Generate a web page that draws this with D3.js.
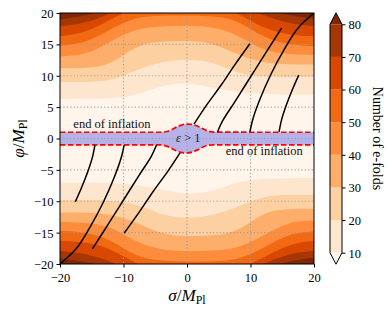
<!DOCTYPE html>
<html>
<head>
<meta charset="utf-8">
<script src="https://cdn.jsdelivr.net/npm/d3@7"></script>
<style>
  body { margin: 0; background: #fff; }
  svg { display: block; font-family: "Liberation Serif", serif; }
</style>
</head>
<body>
<div id="chart"></div>
<script>
// contour levels of the number of e-folds
const levels = [10, 20, 30, 40, 50, 60, 70, 80];

// sigma positions at which the contour boundaries were read (upper half, phi > 0)
const sigmaGrid = [-20, -16, -12, -8, -4, 0, 4, 8, 12, 16, 20];

// phi of each level boundary along sigmaGrid (upper half); lower half is the point reflection
const level10 = [6.3, 6.3, 6.4, 6.8, 8.5, 9.0, 8.1, 7.3, 7.1, 7.0, 7.0];
const level20 = [9.0, 9.0, 9.1, 10.9, 12.3, 12.7, 12.3, 10.3, 9.9, 9.8, 9.8];
const level30 = [11.2, 11.2, 11.6, 15.0, 15.5, 15.6, 15.3, 13.3, 12.0, 11.8, 11.8];
const level40 = [13.1, 13.2, 15.5, 17.6, 17.9, 18.0, 17.8, 16.6, 13.9, 13.4, 13.3];
const level50 = [14.8, 15.1, 17.5, 19.4, 19.6, 19.6, 19.5, 19.0, 16.0, 14.9, 14.7];
const level60 = [16.3, 16.8, 19.0, 21.0, 21.8, 22.0, 21.5, 20.0, 17.5, 16.5, 16.3];
const level70 = [17.9, 18.3, 20.0, 21.5, 23.0, 23.0, 22.5, 21.3, 19.6, 18.3, 17.9];
const level80 = [19.0, 19.5, 20.8, 22.0, 24.0, 24.0, 23.5, 22.5, 20.6, 19.6, 19.1];
const levelCurves = [level10, level20, level30, level40, level50, level60, level70, level80];

// boundary of the epsilon > 1 region (upper side); lower side is the point reflection
const epsSigma = [-20, -10, -4.2, -3, -2, -1, 0, 1, 2, 3, 4.2, 10, 20];
const epsPhi = [1.0, 1.0, 1.0, 1.15, 1.65, 2.1, 2.3, 2.2, 1.8, 1.3, 1.02, 1.0, 1.0];

// field trajectories [sigma, phi] in the lower half; the upper ones are their reflections
const traj1 = [[-17.6, -10.1], [-16.6, -7.8], [-15.6, -5.2], [-14.9, -3.0], [-14.5, -1.05]];
const traj2 = [[-20, -20], [-17.4, -17.5], [-15.2, -14.0], [-13.2, -10.2], [-11.5, -6.3], [-10.4, -3.2], [-9.9, -1.05]];
const traj3 = [[-14.9, -17.6], [-12.5, -13.8], [-10, -9.8], [-7.5, -5.8], [-5.6, -2.8], [-4.8, -1.05]];
const traj4 = [[-9.9, -15.1], [-7.5, -11.7], [-5.3, -8.4], [-3, -5.2], [-1.1, -2.3]];
const trajectories = [traj1, traj2, traj3, traj4];

const xTicks = [-20, -10, 0, 10, 20];
const yTicks = [-20, -15, -10, -5, 0, 5, 10, 15, 20];
const gridX = [-10, 0, 10];
const gridY = [-15, -10, -5, 0, 5, 10, 15];

const width = 389, height = 314;
const plot = { left: 60, right: 314, top: 13, bottom: 264 };
const colors = d3.schemeOranges[9];
const fmt = (d) => (d < 0 ? "\u2212" + Math.abs(d) : String(d));

const svg = d3.select("#chart").append("svg")
  .attr("width", width)
  .attr("height", height);

const x = d3.scaleLinear().domain([-20, 20]).range([plot.left, plot.right]);
const y = d3.scaleLinear().domain([-20, 20]).range([plot.bottom, plot.top]);

svg.append("clipPath").attr("id", "clip")
  .append("rect")
  .attr("x", plot.left).attr("y", plot.top)
  .attr("width", plot.right - plot.left).attr("height", plot.bottom - plot.top);

const chart = svg.append("g").attr("clip-path", "url(#clip)");

// below the first level
chart.append("rect")
  .attr("x", plot.left).attr("y", plot.top)
  .attr("width", plot.right - plot.left).attr("height", plot.bottom - plot.top)
  .attr("fill", colors[0]);

const reflect = (pts) => pts.map(([s, p]) => [-s, -p]).reverse();

const upperArea = d3.area()
  .curve(d3.curveBasis)
  .x((d) => x(d[0]))
  .y0(y(30))
  .y1((d) => y(d[1]));
const lowerArea = d3.area()
  .curve(d3.curveBasis)
  .x((d) => x(d[0]))
  .y0(y(-30))
  .y1((d) => y(d[1]));

levelCurves.forEach((curve, i) => {
  const pts = sigmaGrid.map((s, j) => [s, curve[j]]);
  chart.append("path").attr("d", upperArea(pts)).attr("fill", colors[i + 1]);
  chart.append("path").attr("d", lowerArea(reflect(pts))).attr("fill", colors[i + 1]);
});

// epsilon > 1 region
const epsUpper = epsSigma.map((s, j) => [s, epsPhi[j]]);
const epsLower = reflect(epsUpper);
const line = d3.line().curve(d3.curveMonotoneX).x((d) => x(d[0])).y((d) => y(d[1]));
chart.append("path")
  .attr("d", d3.area().curve(d3.curveMonotoneX)
    .x((d) => x(d[0]))
    .y0((d, j) => y(-epsPhi[epsPhi.length - 1 - j]))
    .y1((d) => y(d[1]))(epsUpper))
  .attr("fill", "#b4b2e8");

// grid
chart.append("g").selectAll("line").data(gridX).join("line")
  .attr("x1", (d) => x(d)).attr("x2", (d) => x(d))
  .attr("y1", plot.top).attr("y2", plot.bottom)
  .attr("stroke", "#9a9a9a").attr("stroke-width", 1.2)
  .attr("stroke-dasharray", "1.2,2.2").attr("stroke-opacity", 0.85);
chart.append("g").selectAll("line").data(gridY).join("line")
  .attr("x1", plot.left).attr("x2", plot.right)
  .attr("y1", (d) => y(d)).attr("y2", (d) => y(d))
  .attr("stroke", "#9a9a9a").attr("stroke-width", 1.2)
  .attr("stroke-dasharray", "1.2,2.2").attr("stroke-opacity", 0.85);

// red dashed outline of the epsilon > 1 region
[epsUpper, epsLower].forEach((pts) => {
  chart.append("path")
    .attr("d", line(pts))
    .attr("fill", "none")
    .attr("stroke", "#ff0000")
    .attr("stroke-width", 1.7)
    .attr("stroke-dasharray", "5.5,2.5");
});

// trajectories
const trajLine = d3.line().curve(d3.curveCatmullRom).x((d) => x(d[0])).y((d) => y(d[1]));
trajectories.forEach((t) => {
  [t, reflect(t)].forEach((pts) => {
    chart.append("path")
      .attr("d", trajLine(pts))
      .attr("fill", "none")
      .attr("stroke", "#000")
      .attr("stroke-width", 1.5);
  });
});

// annotations
svg.append("text")
  .attr("x", x(-17.9)).attr("y", y(1.7))
  .attr("font-size", 12.5).attr("fill", "#111")
  .text("end of inflation");
svg.append("text")
  .attr("x", x(6.1)).attr("y", y(-2.7))
  .attr("font-size", 12.5).attr("fill", "#111")
  .text("end of inflation");
const epsText = svg.append("text")
  .attr("x", x(0.2)).attr("y", y(-0.6))
  .attr("text-anchor", "middle")
  .attr("font-size", 12.5).attr("fill", "#222");
epsText.append("tspan").attr("font-style", "italic").text("\u03b5");
epsText.append("tspan").text(" > 1");

// frame
svg.append("rect")
  .attr("x", plot.left).attr("y", plot.top)
  .attr("width", plot.right - plot.left).attr("height", plot.bottom - plot.top)
  .attr("fill", "none").attr("stroke", "#000").attr("stroke-width", 1);

// axes
const xAxis = svg.append("g")
  .attr("transform", `translate(0,${plot.bottom})`)
  .call(d3.axisBottom(x).tickValues(xTicks).tickFormat(fmt).tickSize(3.5).tickSizeOuter(0));
const yAxis = svg.append("g")
  .attr("transform", `translate(${plot.left},0)`)
  .call(d3.axisLeft(y).tickValues(yTicks).tickFormat(fmt).tickSize(3.5).tickSizeOuter(0));
[xAxis, yAxis].forEach((a) => {
  a.select(".domain").remove();
  a.selectAll("text").attr("font-family", "Liberation Serif, serif").attr("font-size", 12.5).attr("fill", "#000");
  a.selectAll("line").attr("stroke", "#000");
});
xAxis.selectAll("text").attr("dy", "0.9em");
yAxis.selectAll("text").attr("dy", "0.35em");

// axis labels
const xLabel = svg.append("text")
  .attr("x", x(0)).attr("y", 301)
  .attr("text-anchor", "middle")
  .attr("font-size", 17);
xLabel.append("tspan").attr("font-style", "italic").text("\u03c3");
xLabel.append("tspan").text("/");
xLabel.append("tspan").attr("font-style", "italic").text("M");
xLabel.append("tspan").attr("font-size", 12).attr("dy", 3).text("Pl");

const yLabel = svg.append("text")
  .attr("transform", `translate(24,${y(0)}) rotate(-90)`)
  .attr("text-anchor", "middle")
  .attr("font-size", 17);
yLabel.append("tspan").attr("font-style", "italic").text("\u03c6");
yLabel.append("tspan").text("/");
yLabel.append("tspan").attr("font-style", "italic").text("M");
yLabel.append("tspan").attr("font-size", 12).attr("dy", 3).text("Pl");

// colorbar
const cb = { x: 330, w: 12, top: 24.3, bottom: 252.7, ext: 11.5 };
const cy = d3.scaleLinear().domain([10, 80]).range([cb.bottom, cb.top]);
const cbar = svg.append("g");
d3.pairs(levels).forEach(([a, b], i) => {
  cbar.append("rect")
    .attr("x", cb.x).attr("y", cy(b))
    .attr("width", cb.w).attr("height", cy(a) - cy(b))
    .attr("fill", colors[i + 1]);
});
cbar.append("path")
  .attr("d", `M${cb.x},${cb.top}L${cb.x + cb.w / 2},${cb.top - cb.ext}L${cb.x + cb.w},${cb.top}Z`)
  .attr("fill", colors[8]);
cbar.append("path")
  .attr("d", `M${cb.x},${cb.bottom}L${cb.x + cb.w / 2},${cb.bottom + cb.ext}L${cb.x + cb.w},${cb.bottom}Z`)
  .attr("fill", colors[0]);
cbar.append("path")
  .attr("d", `M${cb.x},${cb.top}L${cb.x + cb.w / 2},${cb.top - cb.ext}L${cb.x + cb.w},${cb.top}` +
    `L${cb.x + cb.w},${cb.bottom}L${cb.x + cb.w / 2},${cb.bottom + cb.ext}L${cb.x},${cb.bottom}Z`)
  .attr("fill", "none").attr("stroke", "#000").attr("stroke-width", 1);
const cAxis = cbar.append("g")
  .attr("transform", `translate(${cb.x + cb.w},0)`)
  .call(d3.axisRight(cy).tickValues(levels).tickSize(3.5).tickSizeOuter(0));
cAxis.select(".domain").remove();
cAxis.selectAll("text").attr("font-family", "Liberation Serif, serif").attr("font-size", 12.5).attr("fill", "#000").attr("dy", "0.35em");
cAxis.selectAll("line").attr("stroke", "#000");

svg.append("text")
  .attr("transform", `translate(373,${(cb.top + cb.bottom) / 2}) rotate(90)`)
  .attr("text-anchor", "middle")
  .attr("font-size", 14)
  .text("Number of e-folds");
</script>
</body>
</html>
